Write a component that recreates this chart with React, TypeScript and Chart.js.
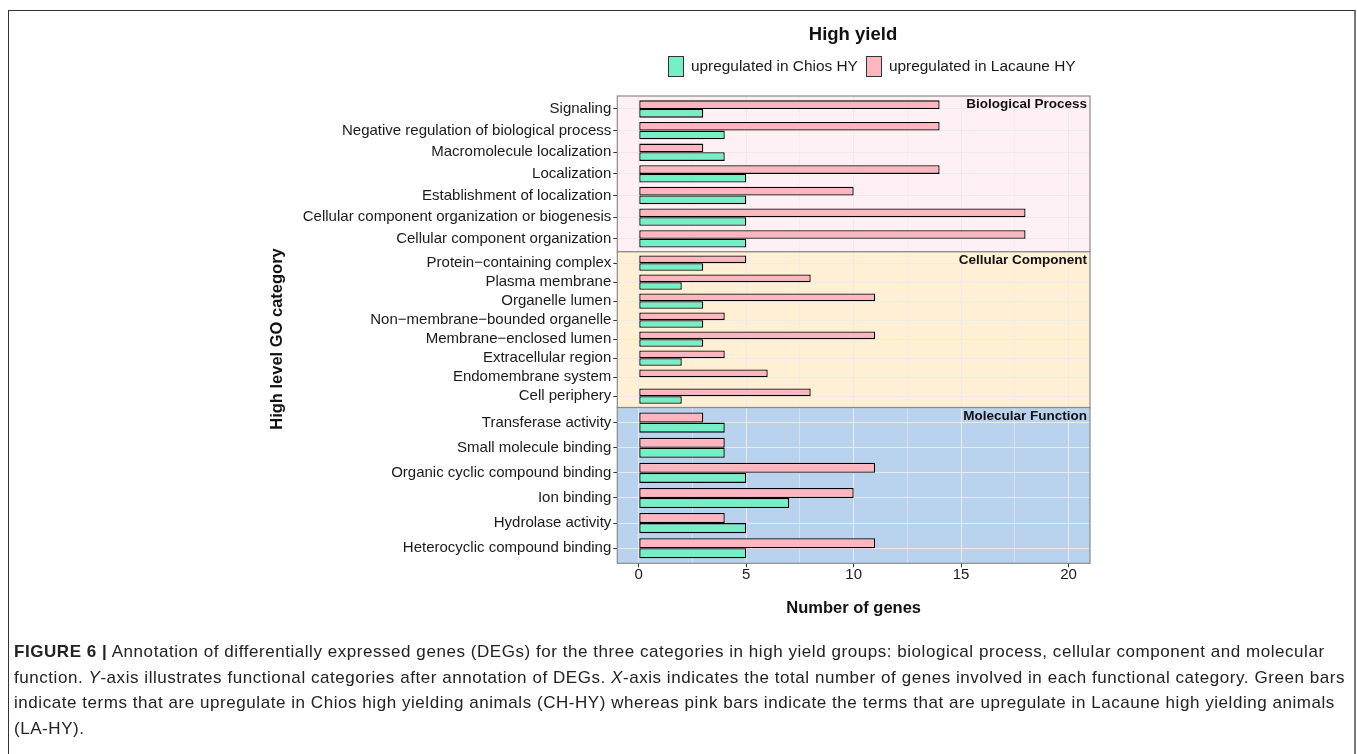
import React, { useEffect, useRef } from 'react';
import { Chart, registerables } from 'chart.js';

Chart.register(...registerables);

const FONT = '"Liberation Sans", Arial, Helvetica, sans-serif';

// GO terms and gene counts per high-level category
const bpTerms = [
  'Signaling',
  'Negative regulation of biological process',
  'Macromolecule localization',
  'Localization',
  'Establishment of localization',
  'Cellular component organization or biogenesis',
  'Cellular component organization',
];
const bpChios = [3, 4, 4, 5, 5, 5, 5];
const bpLacaune = [14, 14, 3, 14, 10, 18, 18];

const ccTerms = [
  'Protein\u2212containing complex',
  'Plasma membrane',
  'Organelle lumen',
  'Non\u2212membrane\u2212bounded organelle',
  'Membrane\u2212enclosed lumen',
  'Extracellular region',
  'Endomembrane system',
  'Cell periphery',
];
const ccChios = [3, 2, 3, 3, 3, 2, 0, 2];
const ccLacaune = [5, 8, 11, 4, 11, 4, 6, 8];

const mfTerms = [
  'Transferase activity',
  'Small molecule binding',
  'Organic cyclic compound binding',
  'Ion binding',
  'Hydrolase activity',
  'Heterocyclic compound binding',
];
const mfChios = [4, 4, 5, 7, 5, 5];
const mfLacaune = [3, 4, 11, 10, 4, 11];

const panelNames = ['Biological Process', 'Cellular Component', 'Molecular Function'];
const panelFill = ['#FFF0F5', '#FFEFD5', '#B9D3EE'];
const panelTerms = [bpTerms, ccTerms, mfTerms];
const panelChios = [bpChios, ccChios, mfChios];
const panelLacaune = [bpLacaune, ccLacaune, mfLacaune];

const seriesNames = ['upregulated in Chios HY', 'upregulated in Lacaune HY'];
const seriesColors = ['#76EEC6', '#FFB6C1'];

const xLimits = [-1, 21];

// page geometry of the facet grid
const CANVAS_W = 1357;
const CANVAS_H = 640;
const PLOT_LEFT = 617.3;
const PLOT_RIGHT = 1090;
const PLOT_TOP = 96;
const PLOT_BOTTOM = 563.3;
const Y_AXIS_W = 340;
const X_AXIS_H = 60;

const isMajor = (c: any) => c.tick && Math.abs(c.tick.value % 5) < 1e-6;

function panelPlugin(k: number) {
  return {
    id: 'goPanel' + k,
    beforeDraw(chart: any) {
      const { ctx, chartArea } = chart;
      ctx.save();
      ctx.fillStyle = panelFill[k];
      ctx.fillRect(chartArea.left, chartArea.top, chartArea.right - chartArea.left, chartArea.bottom - chartArea.top);
      ctx.restore();
    },
    afterDatasetsDraw(chart: any) {
      const { ctx, chartArea } = chart;
      ctx.save();
      ctx.strokeStyle = '#8a8a8a';
      ctx.lineWidth = 1.2;
      ctx.strokeRect(chartArea.left, chartArea.top, chartArea.right - chartArea.left, chartArea.bottom - chartArea.top);
      ctx.fillStyle = '#111';
      ctx.font = `bold 13.5px ${FONT}`;
      ctx.textAlign = 'right';
      ctx.textBaseline = 'middle';
      ctx.fillText(panelNames[k], chartArea.right - 3, chartArea.top + 8.5);
      ctx.restore();
    },
  };
}

// legend, legend title and the shared y axis title
const headerPlugin = {
  id: 'goHeader',
  afterDraw(chart: any) {
    const { ctx } = chart;
    ctx.save();
    ctx.fillStyle = '#111';
    ctx.textBaseline = 'middle';

    ctx.save();
    ctx.translate(277, 339);
    ctx.rotate(-Math.PI / 2);
    ctx.textAlign = 'center';
    ctx.font = `bold 16.5px ${FONT}`;
    ctx.fillText('High level GO category', 0, 0);
    ctx.restore();

    ctx.textAlign = 'center';
    ctx.font = `bold 18.5px ${FONT}`;
    ctx.fillText('High yield', 853, 35);

    const keyX = [668, 866];
    ctx.font = `15.4px ${FONT}`;
    ctx.textAlign = 'left';
    seriesNames.forEach((name, i) => {
      ctx.fillStyle = seriesColors[i];
      ctx.fillRect(keyX[i], 56.5, 16, 20);
      ctx.strokeStyle = '#333';
      ctx.lineWidth = 1;
      ctx.strokeRect(keyX[i] + 0.5, 56.5, 15, 20);
      ctx.fillStyle = '#1a1a1a';
      ctx.fillText(name, keyX[i] + 23, 66.5);
    });
    ctx.restore();
  },
};

function buildChart(canvas: HTMLCanvasElement, k: number) {
  const isLast = k === 2;
  const panelH = (PLOT_BOTTOM - PLOT_TOP) / 3;
  const top = PLOT_TOP + panelH * k;
  const bottom = top + panelH;
  const xH = isLast ? X_AXIS_H : 0;
  const terms = panelTerms[k];

  const plugins: any[] = [panelPlugin(k)];
  if (k === 0) plugins.push(headerPlugin);

  return new Chart(canvas, {
    type: 'bar',
    data: {
      datasets: [
        {
          label: seriesNames[1],
          data: panelLacaune[k].map((v, i) => ({ x: v, y: i })),
          backgroundColor: seriesColors[1],
        },
        {
          label: seriesNames[0],
          data: panelChios[k].map((v, i) => ({ x: v, y: i })),
          backgroundColor: seriesColors[0],
        },
      ],
    },
    plugins,
    options: {
      indexAxis: 'y',
      animation: false,
      responsive: false,
      devicePixelRatio: 1,
      events: [],
      layout: {
        padding: {
          left: PLOT_LEFT - Y_AXIS_W,
          right: CANVAS_W - PLOT_RIGHT,
          top,
          bottom: CANVAS_H - bottom - xH,
        },
      },
      datasets: {
        bar: {
          categoryPercentage: 0.8,
          barPercentage: 1.0,
          borderColor: '#000',
          borderWidth: 1.3,
          borderSkipped: false,
        },
      },
      plugins: {
        legend: { display: false },
        tooltip: { enabled: false },
      },
      scales: {
        x: {
          type: 'linear',
          position: 'bottom',
          min: xLimits[0],
          max: xLimits[1],
          offset: false,
          grid: {
            color: '#EBEBEB',
            lineWidth: (c: any) => (isMajor(c) ? 1 : 0.6),
            tickColor: (c: any) => (isMajor(c) ? '#333' : 'rgba(0,0,0,0)'),
            tickLength: 4,
            drawTicks: isLast,
            offset: false,
          },
          border: { display: false },
          ticks: {
            display: isLast,
            stepSize: 2.5,
            includeBounds: false,
            autoSkip: false,
            maxRotation: 0,
            padding: 0,
            color: '#1a1a1a',
            font: { family: FONT, size: 15, lineHeight: 1.0 },
            callback: (v: number) => (Math.abs(v % 5) < 1e-6 ? String(v) : ''),
          },
          title: {
            display: isLast,
            text: 'Number of genes',
            color: '#111',
            font: { family: FONT, size: 16.5, weight: 'bold' },
            padding: { top: 0, bottom: 5.4 },
          },
          afterFit: (s: any) => {
            s.height = xH;
          },
        },
        y: {
          type: 'linear',
          position: 'left',
          reverse: true,
          offset: false,
          min: -0.6,
          max: terms.length - 0.4,
          grid: { color: '#EBEBEB', lineWidth: 1, tickColor: '#333', tickLength: 4, offset: false },
          border: { display: false },
          ticks: {
            stepSize: 1,
            includeBounds: false,
            autoSkip: false,
            padding: 2,
            color: '#1a1a1a',
            font: { family: FONT, size: 15 },
            callback: (v: number) => terms[v] ?? '',
          },
          afterFit: (s: any) => {
            s.width = Y_AXIS_W;
          },
        },
      } as any,
    },
  } as any);
}

export default function App() {
  const bpRef = useRef<HTMLCanvasElement | null>(null);
  const ccRef = useRef<HTMLCanvasElement | null>(null);
  const mfRef = useRef<HTMLCanvasElement | null>(null);

  useEffect(() => {
    const canvases = [bpRef.current, ccRef.current, mfRef.current];
    if (canvases.some((c) => !c)) return;
    const charts = canvases.map((c, k) => buildChart(c as HTMLCanvasElement, k));
    return () => charts.forEach((ch) => ch.destroy());
  }, []);

  const canvasStyle: React.CSSProperties = {
    position: 'absolute',
    left: 0,
    top: 0,
    width: CANVAS_W,
    height: CANVAS_H,
  };

  return (
    <div
      style={{
        position: 'fixed',
        left: 0,
        top: 0,
        width: 1357,
        height: 754,
        overflow: 'hidden',
        background: '#fff',
      }}
    >
      <div
        style={{
          position: 'absolute',
          left: 8,
          top: 10,
          width: 1348,
          height: 800,
          borderLeft: '1px solid #333',
          borderTop: '1px solid #333',
          borderRight: '2px solid #777',
          boxSizing: 'border-box',
        }}
      />
      <canvas ref={bpRef} width={CANVAS_W} height={CANVAS_H} style={canvasStyle} />
      <canvas ref={ccRef} width={CANVAS_W} height={CANVAS_H} style={canvasStyle} />
      <canvas ref={mfRef} width={CANVAS_W} height={CANVAS_H} style={canvasStyle} />
      <div
        style={{
          position: 'absolute',
          left: 14,
          top: 639,
          fontFamily: FONT,
          fontSize: 17,
          letterSpacing: '0.55px',
          lineHeight: '25.7px',
          color: '#222',
          whiteSpace: 'nowrap',
        }}
      >
        <b>FIGURE 6 |</b> Annotation of differentially expressed genes (DEGs) for the three categories in high yield groups: biological process, cellular component and molecular
        <br />
        function. <i>Y</i>-axis illustrates functional categories after annotation of DEGs. <i>X</i>-axis indicates the total number of genes involved in each functional category. Green bars
        <br />
        indicate terms that are upregulate in Chios high yielding animals (CH-HY) whereas pink bars indicate the terms that are upregulate in Lacaune high yielding animals
        <br />
        (LA-HY).
      </div>
    </div>
  );
}
